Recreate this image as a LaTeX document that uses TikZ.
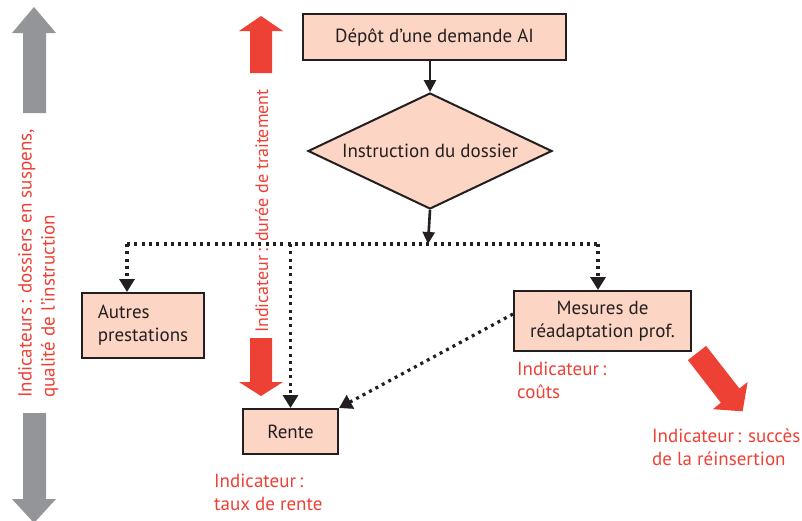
\documentclass[tikz,border=0pt]{standalone}
\usepackage{fontspec}
\setmainfont{PT Sans}
\usetikzlibrary{arrows.meta,shapes.geometric}
\definecolor{peach}{HTML}{FDD5C4}
\definecolor{ired}{HTML}{EE4136}
\definecolor{igrey}{HTML}{939598}
\definecolor{iblack}{HTML}{231F20}
\begin{document}
\begin{tikzpicture}[x=1pt,y=-1pt,
  every node/.style={font=\fontsize{19}{23}\selectfont, inner sep=0pt},
  box/.style={draw=iblack, line width=2pt, fill=peach, text=iblack, align=center},
  redtxt/.style={text=ired, align=left, font=\fontsize{19}{23}\selectfont},
  solidarrow/.style={draw=iblack, line width=2.6pt, -{Triangle[width=12pt,length=12pt]}},
  dotline/.style={draw=iblack, line width=3.2pt, dash pattern=on 3pt off 4.3pt},
  dotarrow/.style={dotline, -{Triangle[width=15pt,length=13pt]}},
]
\useasboundingbox (0,0) rectangle (802,520);
\fill[white] (0,0) rectangle (802,520);

% grey arrows
\fill[igrey] (23,113) -- (23,33) -- (12,33) -- (34,7) -- (56,33) -- (46,33) -- (46,113) -- cycle;
\fill[igrey] (23,413) -- (46,413) -- (46,499) -- (56,499) -- (34,523) -- (12,499) -- (23,499) -- cycle;

% red vertical arrows
\fill[ired] (250,73) -- (250,31) -- (239,31) -- (261,16) -- (283,31) -- (272,31) -- (272,73) -- cycle;
\fill[ired] (250,338) -- (272,338) -- (272,382) -- (283,382) -- (261,396) -- (239,382) -- (250,382) -- cycle;

% red diagonal arrow
\fill[ired] (687.9,360.1) -- (706.1,345.9) -- (739.4,388.5) -- (747.6,382.0) -- (742.6,411.3) -- (712.9,409.2) -- (720.9,402.7) -- cycle;

% rotated texts
\node[redtxt, rotate=90, anchor=north west] (tleft) at (18,398)
  {Indicateurs\,: dossiers en suspens,\\qualité de l'instruction};
\node[redtxt, font=\fontsize{18}{22}\selectfont, rotate=90, anchor=north west] (tmid) at (255,333)
  {Indicateur\,: durée de traitement};

% boxes
\node[box, minimum width=263pt, minimum height=46pt] (dep) at (434.5,37) {Dépôt d'une demande AI};
\node[box, shape=diamond, aspect=2.1, minimum width=244pt, minimum height=116pt] (instr) at (430,151) {Instruction du dossier};
\node[box, minimum width=122pt, minimum height=65pt, align=left] (autres) at (143,325.5) {Autres\\prestations};
\node[box, minimum width=95pt, minimum height=45pt] (rente) at (290.5,431.5) {Rente};
\node[box, minimum width=177pt, minimum height=60pt] (mesures) at (602.5,321) {Mesures de\\réadaptation prof.};

% connectors
\coordinate (j) at (428,244);
\coordinate (jl) at (127,244);
\coordinate (jr) at (598,244);
\draw[solidarrow] (dep.south -| instr.north) -- (instr.north);
\draw[solidarrow] (instr.south) -- (j);
\draw[dotline] (jl) -- (jr);
\draw[dotarrow] (jl) -- (jl |- autres.north);
\draw[dotarrow] (rente.north |- jl) -- (rente.north);
\draw[dotarrow] (jr) -- (jr |- mesures.north);
\draw[dotarrow] ([yshift=7pt]mesures.west) -- (rente.north east);

% red labels
\node[redtxt, anchor=north west] (lcouts) at (517,362) {Indicateur\,:\\coûts};
\node[redtxt, anchor=north west] (lsucces) at (652,429) {Indicateur\,: succès\\de la réinsertion};
\node[redtxt, anchor=north west] (lrente) at (214,474) {Indicateur\,:\\taux de rente};
\end{tikzpicture}
\end{document}
